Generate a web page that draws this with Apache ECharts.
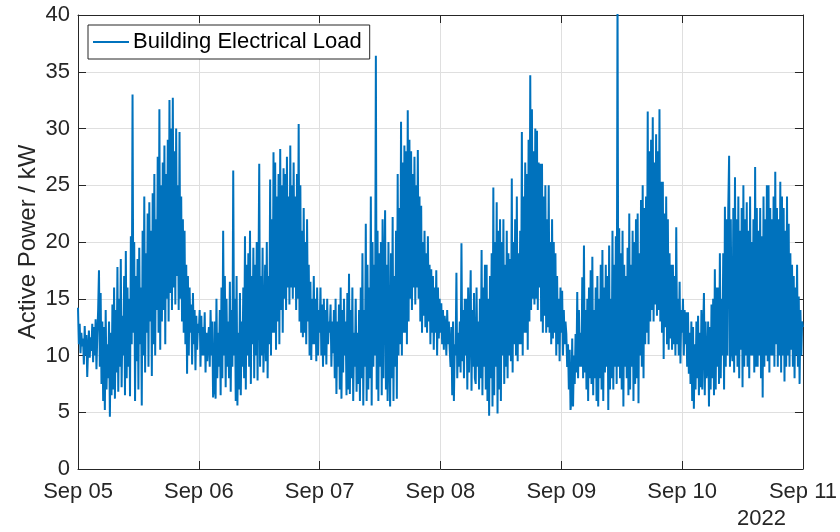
<!DOCTYPE html>
<html>
<head>
<meta charset="utf-8">
<script src="https://cdn.jsdelivr.net/npm/echarts@6/dist/echarts.min.js"></script>
<style>
  html, body { margin: 0; padding: 0; background: #fff; }
  #chart { width: 840px; height: 532px; }
</style>
</head>
<body>
<div id="chart"></div>
<script>
// Building electrical load, 10-minute samples (kW), one array per day
const sep05 = [
  14.2, 11, 12.8, 10.2, 12, 10.8,
  11.5, 9.2, 12.6, 10, 11.8, 8.1,
  10.5, 12.2, 9.8, 11.6, 10.4, 12.8,
  9.4, 12.5, 10, 13.2, 8.8, 11.8,
  14, 17.5, 9, 15.5, 7.5, 13,
  6, 12.5, 5.2, 14, 7, 11,
  8, 13, 4.6, 12, 6.5, 14.5,
  7, 16, 6.2, 14, 8.5, 17.8,
  6.8, 15, 9, 18.5, 7.2, 13.5,
  10, 17, 6.5, 19.2, 8, 16,
  9, 15, 6.4, 20.5, 11, 33,
  12, 20, 6, 17, 9.5, 18.5,
  7, 19.5, 11, 16, 5.6, 21,
  10, 24, 8.5, 19, 12, 22.5,
  9, 23.5, 13, 21, 8.2, 24.3,
  11, 26, 10, 22, 14, 27.5,
  12, 31.7, 10.5, 25, 13, 27,
  14, 28.5, 11, 26, 15, 29,
  13, 32.5, 15.5, 30, 14, 32.7,
  16, 28, 14.5, 30, 17, 25,
  14, 29.7, 15, 24, 13, 22,
  12, 21, 11, 18, 8.4, 17,
  10, 16, 12, 14.5, 9.2, 15.5,
  11, 14, 8.7, 13.5, 10.5, 12.8
];
const sep06 = [
  12, 14, 9, 13.5, 10, 12.5,
  10, 13.8, 8.5, 12, 9.5, 11.5,
  12.5, 9, 14, 10, 13, 6.3,
  7, 13, 6.2, 15, 8, 12,
  9, 14, 6.5, 16, 8, 21,
  10, 17, 7.2, 15, 9, 13,
  8, 16.5, 6.8, 14, 9, 26.3,
  10, 15, 6, 17, 5.6, 12,
  7, 15.5, 6.5, 13, 9, 16,
  8, 20.5, 7, 18, 10, 19,
  9, 21, 7.5, 17, 11, 19.5,
  8, 18, 10, 20, 7.8, 16,
  26.9, 9, 17, 10, 19.5, 8.5,
  12, 18, 9.5, 20, 8, 17,
  11, 25.5, 10, 22, 12, 27.9,
  12, 27, 10.5, 24, 13, 26,
  11, 28.2, 14, 25, 12, 26.5,
  15, 26, 14, 27.5, 16, 24,
  14.5, 28.5, 16, 25, 15, 27,
  16, 24, 14, 26, 15, 30.4,
  13, 25, 12, 21, 11.6, 23,
  12, 20, 11, 22, 13, 18,
  10, 16.5, 9.6, 15, 11, 17,
  11, 15, 9.5, 16, 10, 14
];
const sep07 = [
  12, 16, 10, 14.5, 9, 15,
  10, 14, 9.2, 15, 11, 13,
  12, 14.5, 9, 13, 10.2, 14,
  8, 15, 6.6, 13, 9, 14.5,
  7, 16, 6.2, 14, 8.5, 15,
  10, 13, 6.5, 15.5, 7, 17.2,
  6.6, 14, 8, 16, 6, 12,
  9, 15, 6.8, 12, 7.5, 14,
  6, 16, 8, 19, 5.6, 14,
  9, 21.6, 6, 18, 7, 16,
  8, 24, 5.6, 20, 9, 18,
  10, 36.4, 7, 21, 6, 19,
  9, 20, 6.5, 22, 8, 17,
  22.8, 7, 18, 6, 20, 10,
  5.5, 19, 8, 22.2, 6, 17,
  9, 21, 6.2, 26, 10, 23,
  11, 30.6, 10, 27, 12, 28.5,
  12, 28, 11, 31.6, 13, 29,
  15, 28, 14, 26, 16, 27.5,
  14.5, 25, 16, 28.1, 15, 24,
  13, 23.2, 12, 20, 13.5, 21,
  12.5, 19, 12, 20.5, 13, 18,
  11, 17.6, 12, 17, 10.5, 16,
  12, 17.5, 10, 16, 11.5, 15
];
const sep08 = [
  12, 14.6, 11, 14, 10.5, 13.5,
  12.5, 10, 14, 11, 13, 10.5,
  9, 12.5, 6.5, 13, 6, 11,
  10, 17.3, 8, 12, 9, 13,
  8.5, 19.9, 9.5, 14, 8, 15,
  10, 15, 7, 16, 8.5, 13,
  17.5, 6.9, 14, 9, 15.5, 8,
  7.5, 16, 9, 13, 7, 15,
  8, 19.3, 6.5, 16, 9, 18,
  7, 18, 6, 15, 4.7, 17,
  8, 19, 5.5, 24.8, 6.5, 20,
  9, 23.5, 4.9, 21, 7, 22,
  6, 20, 10, 22, 7.5, 18,
  9, 21, 8, 19, 10, 18.5,
  9.5, 25.6, 8.5, 20, 11, 22,
  10, 24, 9.5, 19, 11, 21,
  11, 29.7, 10, 24, 12, 27,
  12, 26, 10.5, 29, 13, 34.7,
  14, 31.7, 15, 28, 14.5, 30,
  15, 29.8, 14, 27, 16, 26.9,
  13, 26.9, 12, 24, 13.5, 25,
  12, 22, 12.5, 25, 12, 20,
  11, 22, 11.5, 20, 12, 19,
  10, 17, 11, 15, 9.5, 16
];
const sep09 = [
  12, 15.7, 10, 14, 11, 13,
  11.9, 9, 11, 7, 10.5, 5.2,
  6, 11.5, 5.5, 10, 7.5, 11.9,
  8.5, 15.6, 8, 14, 9, 12,
  9, 16.9, 8, 19.7, 8.5, 14,
  7, 15, 6, 16, 8, 17.5,
  7.5, 18.7, 6.5, 14, 8, 16,
  6, 17, 5.5, 15, 8, 18,
  7, 19.3, 6, 16, 8.5, 18,
  9, 17, 5.2, 19.7, 7, 15,
  8, 21, 7, 18, 9, 20.5,
  7.5, 42, 9, 21.2, 8, 19,
  7, 21, 5.5, 18, 9, 17,
  8, 19.5, 6.5, 22.5, 7, 18,
  9, 21, 6, 20, 7.5, 22,
  8, 22.5, 5.8, 19, 10, 23.7,
  9, 25, 8, 23, 11, 24,
  12, 31.5, 11, 28, 13, 29,
  14, 31, 13, 27, 14.5, 29.5,
  13.5, 28, 14, 31.7, 13, 25.3,
  12, 25.3, 9.7, 22.5, 12.5, 24,
  11, 22, 10.5, 19, 11.5, 18,
  10.5, 18, 11, 17, 10, 21.3,
  11, 15, 10, 16.5, 9.3, 14
];
const sep10 = [
  12, 15, 10, 14, 11, 13.8,
  9, 13.8, 8.4, 12, 7.5, 13,
  6, 12.5, 5.3, 11, 7, 13,
  8, 13.5, 6.5, 12, 7.2, 14,
  7, 12, 15.5, 6.5, 13, 8,
  9, 13, 5.5, 12.5, 7, 14.5,
  8, 15, 6.5, 17.6, 7, 16,
  9, 16, 7.5, 19, 8, 15,
  10, 19, 7, 23.1, 9, 22,
  10, 23, 27.6, 9, 22, 10.5,
  9.5, 23, 8.5, 25.7, 10, 22,
  9, 24, 8, 21, 10.5, 23,
  7.2, 25, 9, 22, 10, 23.5,
  9, 21, 8, 24, 10, 20,
  10, 22, 8.5, 26.6, 9, 23,
  9, 21, 10, 23, 8, 20.5,
  6.3, 24, 9, 22, 10, 25,
  9.5, 25, 8.5, 23, 10, 22,
  10, 24, 9, 26.2, 11, 23,
  9, 22, 10, 25.3, 8.5, 24,
  10, 23, 7.7, 21, 9, 24,
  10, 21.6, 9, 19, 10.5, 18,
  9, 17, 8, 16, 10, 18,
  9, 15.2, 7.5, 14, 10, 13
];
const sep11Midnight = [12.5];

const dayLabels = ['Sep 05', 'Sep 06', 'Sep 07', 'Sep 08', 'Sep 09', 'Sep 10', 'Sep 11'];
const yTicks = [0, 5, 10, 15, 20, 25, 30, 35, 40];
const yearLabel = '2022';
const seriesName = 'Building Electrical Load';
const yTitle = 'Active Power / kW';

const samplesPerHour = 6;
const load = [].concat(sep05, sep06, sep07, sep08, sep09, sep10, sep11Midnight);
// x is hours elapsed since Sep 05 00:00
const points = load.map((v, i) => [i / samplesPerHour, v]);

const FONT = '"Liberation Sans", Arial, Helvetica, sans-serif';
const AXIS = '#262626';
const GRID = '#dfdfdf';

const chart = echarts.init(document.getElementById('chart'), null, { renderer: 'canvas' });

const hiddenLabels = { show: false };
const frameX = {
  type: 'value', min: 0, max: (dayLabels.length - 1) * 24, interval: 24,
  axisLine: { show: true, onZero: false, lineStyle: { color: AXIS, width: 1 } },
  axisTick: { show: true, inside: true, length: 8, lineStyle: { color: AXIS } },
  splitLine: { show: false }
};
const frameY = {
  type: 'value', min: yTicks[0], max: yTicks[yTicks.length - 1], interval: yTicks[1] - yTicks[0],
  axisLine: { show: true, onZero: false, lineStyle: { color: AXIS, width: 1 } },
  axisTick: { show: true, inside: true, length: 8, lineStyle: { color: AXIS } },
  splitLine: { show: false }
};

chart.setOption({
  animation: false,
  backgroundColor: '#ffffff',
  textStyle: { fontFamily: FONT },
  grid: { left: 78, right: 34, top: 15, bottom: 63, containLabel: false },
  xAxis: [
    Object.assign({}, frameX, {
      position: 'bottom',
      splitLine: { show: true, lineStyle: { color: GRID, width: 1 } },
      axisLabel: {
        show: true, margin: 12, color: AXIS, fontSize: 22, fontFamily: FONT,
        formatter: v => dayLabels[Math.round(v / 24)] || ''
      }
    }),
    Object.assign({}, frameX, { position: 'top', axisLabel: hiddenLabels })
  ],
  yAxis: [
    Object.assign({}, frameY, {
      position: 'left',
      name: yTitle, nameLocation: 'middle', nameGap: 38, nameMoveOverlap: false,
      nameTextStyle: { color: AXIS, fontSize: 24, fontFamily: FONT },
      splitLine: { show: true, lineStyle: { color: GRID, width: 1 } },
      axisLabel: { show: true, margin: 8, color: AXIS, fontSize: 22, fontFamily: FONT }
    }),
    Object.assign({}, frameY, { position: 'right', axisLabel: hiddenLabels })
  ],
  legend: {
    show: true,
    left: 88, top: 25,
    orient: 'horizontal',
    backgroundColor: '#ffffff',
    borderColor: AXIS, borderWidth: 1, borderRadius: 0,
    padding: [6, 8, 6, 5],
    itemWidth: 36, itemHeight: 2, itemGap: 4,
    icon: 'rect',
    textStyle: { color: '#000000', fontSize: 22, fontFamily: FONT, padding: [0, 0, 0, -1] },
    data: [seriesName]
  },
  graphic: [{
    type: 'text', left: 737, top: 508,
    style: { text: yearLabel, fill: AXIS, fontSize: 22, fontFamily: FONT }
  }],
  series: [{
    name: seriesName,
    type: 'line',
    xAxisIndex: 0, yAxisIndex: 0,
    data: points,
    showSymbol: false,
    symbol: 'none',
    sampling: false,
    clip: true,
    lineStyle: { color: '#0072BD', width: 2 },
    itemStyle: { color: '#0072BD' },
    z: 3
  }]
});
</script>
</body>
</html>
